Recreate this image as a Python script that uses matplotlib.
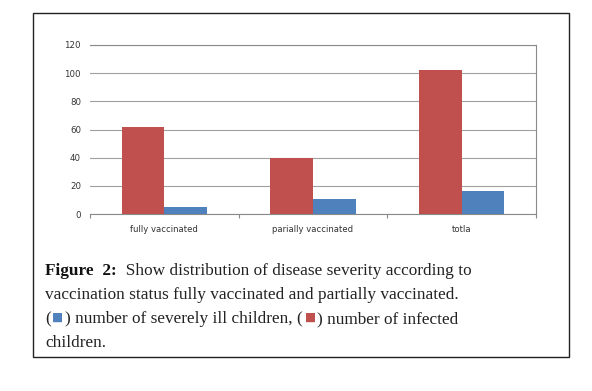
import matplotlib.pyplot as plt
import numpy as np
from matplotlib.patches import Rectangle

# values
categories = ['fully vaccinated', 'parially vaccinated', 'totla']
infected = [62, 40, 102]
severe = [5, 11, 16]
yticks = [0, 20, 40, 60, 80, 100, 120]

red = '#C0504D'
blue = '#4F81BD'

fig = plt.figure(figsize=(5.92, 3.91), dpi=100)
ax = fig.add_axes([90 / 592, 177 / 391, 446 / 592, 169 / 391])

x = np.arange(len(categories))
w = 0.286
ax.bar(x - w / 2, infected, w, color=red, zorder=3)
ax.bar(x + w / 2, severe, w, color=blue, zorder=3)

ax.set_xlim(-0.5, 2.5)
ax.set_ylim(0, 120)
ax.set_yticks(yticks)
ax.set_xticks(x)
ax.set_xticklabels(categories)
ax.set_xticks([-0.5, 0.5, 1.5, 2.5], minor=True)
ax.tick_params(axis='x', which='major', length=0, pad=8, labelsize=6.1, labelcolor='#333333')
ax.tick_params(axis='x', which='minor', length=3, color='#888888', width=0.8)
ax.tick_params(axis='y', length=0, pad=6.5, labelsize=6.2, labelcolor='#333333')
ax.grid(axis='y', color='#a0a0a0', linewidth=0.8, zorder=0)
for s in ['top', 'right', 'bottom']:
    ax.spines[s].set_color('#8a8a8a')
    ax.spines[s].set_linewidth(0.8)
ax.spines['left'].set_visible(False)

# outer frame around chart and caption
fig.patches.append(Rectangle((33 / 592, 34 / 391), 535.5 / 592, 344 / 391,
                             transform=fig.transFigure, fill=False,
                             edgecolor='#222222', linewidth=1.0))

serif = ['Liberation Serif', 'DejaVu Serif']
fs = 12.4
x0 = 45 / 592
ink = '#222222'


def chain(prev, s, dy=0, **kw):
    # put a piece of text right after the previous one
    return ax.annotate(s, xy=(1, 0), xycoords=prev, xytext=(kw.get('dx', 0), dy),
                       textcoords='offset points', va='bottom', ha='left',
                       family=kw.get('family', serif), fontsize=kw.get('size', fs),
                       color=kw.get('color', ink), weight=kw.get('weight', 'normal'),
                       annotation_clip=False)


t = fig.text(x0, 116 / 391, 'Figure  2:', family=serif, fontsize=fs,
             weight='bold', color='#111111', va='baseline')
chain(t, '  Show distribution of disease severity according to')
fig.text(x0, 92 / 391, 'vaccination status fully vaccinated and partially vaccinated.',
         family=serif, fontsize=fs, color=ink, va='baseline')
t = fig.text(x0, 68 / 391, '(', family=serif, fontsize=fs, color=ink, va='baseline')
t = chain(t, '\u25a0', dy=2.0, dx=1.2, color=blue, size=8.5, family='DejaVu Sans')
t = chain(t, ') number of severely ill children, (', dy=-2.0, dx=1.2)
t = chain(t, '\u25a0', dy=2.0, dx=1.2, color=red, size=8.5, family='DejaVu Sans')
chain(t, ') number of infected', dy=-2.0, dx=1.2)
fig.text(x0, 44 / 391, 'children.', family=serif, fontsize=fs, color=ink, va='baseline')

fig.savefig('out.png', dpi=100)
